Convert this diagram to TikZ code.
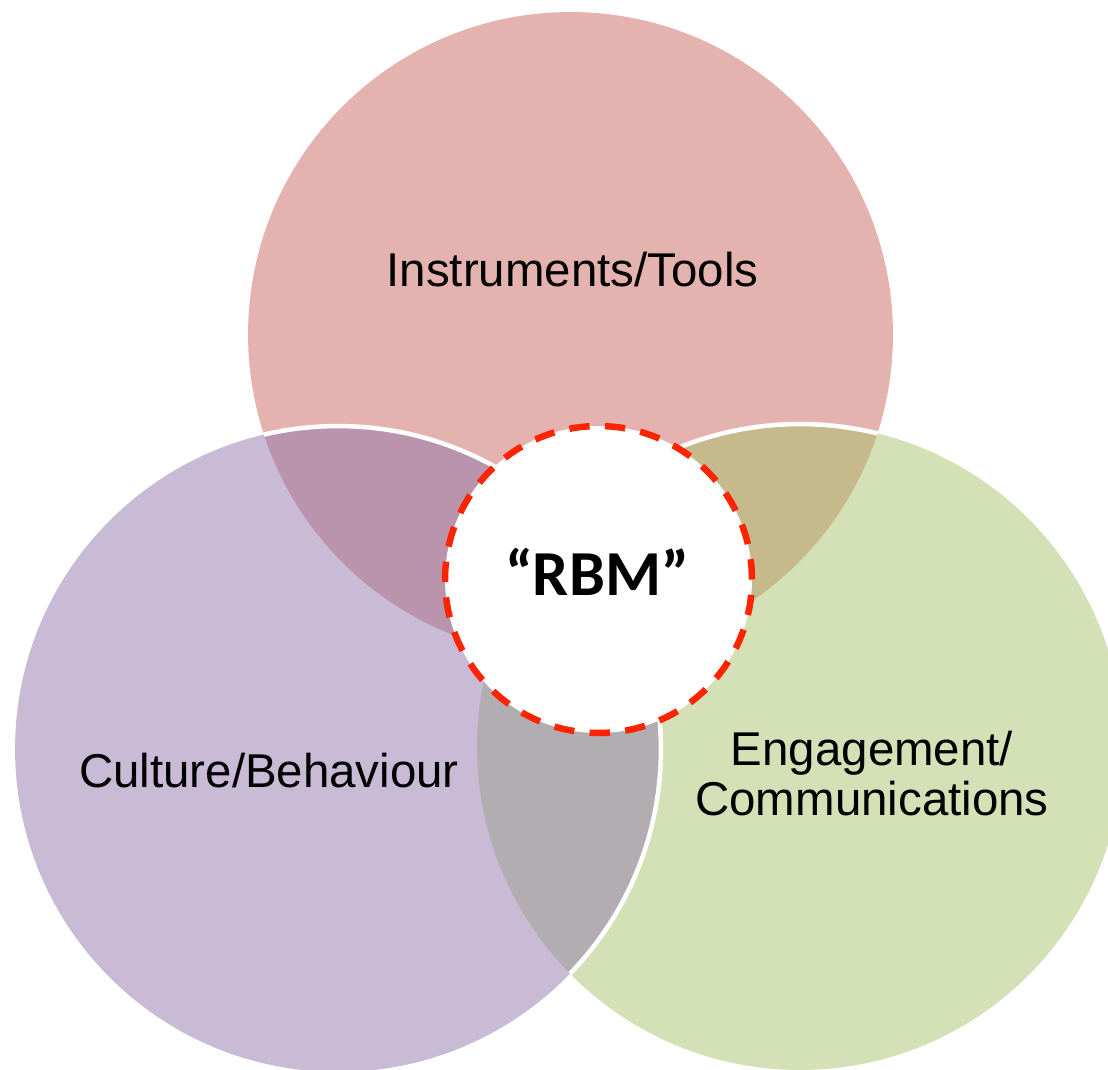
\documentclass[tikz,border=0pt]{standalone}
\usepackage{fontspec}
\setmainfont{Liberation Sans}
\newfontfamily\rbmfont{Carlito}
\definecolor{ctop}{HTML}{E5B3AF}
\definecolor{cleft}{HTML}{C9BBD6}
\definecolor{cright}{HTML}{D4E0B6}
\definecolor{ctl}{HTML}{BA93AD}
\definecolor{ctr}{HTML}{C6BA8D}
\definecolor{clr}{HTML}{B2ADB0}
\definecolor{rbmred}{HTML}{FF2400}
\tikzset{
  lbl/.style={font=\fontsize{27}{28.5}\selectfont, inner sep=0pt, text=black},
  rim/.style={draw=white, line width=0.09cm},
  core/.style={fill=white, draw=rbmred, line width=0.13cm, dash pattern=on 11.6pt off 8.73pt}
}
\begin{document}
\begin{tikzpicture}[x=0.02cm,y=-0.02cm]
\useasboundingbox (0,0) rectangle (1108,1070);
\fill[white] (0,0) rectangle (1108,1070);
\coordinate (T) at (570.5,334.5);
\coordinate (L) at (338,749);
\coordinate (R) at (800,747);
\coordinate (C) at (598.5,579.5);
% base circles
\fill[ctop] (T) circle[radius=6.45cm];
\fill[cright] (R) circle[radius=6.46cm];
\fill[cleft] (L) circle[radius=6.46cm];
% overlaps
\begin{scope}
  \clip (T) circle[radius=6.45cm];
  \fill[ctl] (L) circle[radius=6.46cm];
\end{scope}
\begin{scope}
  \clip (T) circle[radius=6.45cm];
  \fill[ctr] (R) circle[radius=6.46cm];
\end{scope}
\begin{scope}
  \clip (L) circle[radius=6.46cm];
  \fill[clr] (R) circle[radius=6.46cm];
\end{scope}
% white rims
\begin{scope}
  \clip (T) circle[radius=6.45cm];
  \draw[rim] (R) circle[radius=6.46cm];
  \draw[rim] (L) circle[radius=6.46cm];
\end{scope}
\begin{scope}
  \clip (R) circle[radius=6.46cm];
  \draw[rim] (L) circle[radius=6.46cm];
\end{scope}
% centre
\draw[core] (C) circle[radius=3.07cm];
% labels
\node[lbl, anchor=base] (tools) at (572.5,286.7) {Instruments/Tools};
\node[lbl, anchor=base] (culture) at (269,787) {Culture/Behaviour};
\node[lbl, align=center, font=\fontsize{27}{28.45}\selectfont] (engage) at (872,774) {Engagement/\\Communications};
\node[inner sep=0pt, anchor=base, font=\rbmfont\bfseries\fontsize{36.5}{38}\selectfont] (rbm) at (597,595) {“RBM”};
\end{tikzpicture}
\end{document}
